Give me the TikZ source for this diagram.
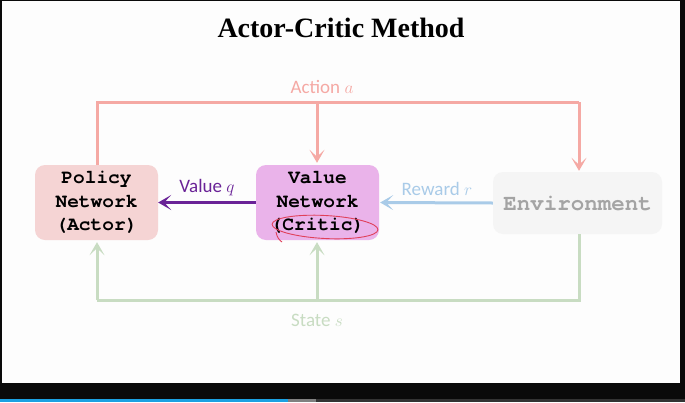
\documentclass[tikz,border=0pt]{standalone}
\usepackage{fontspec}
\setmainfont{Liberation Serif}
\setsansfont{Carlito}
\setmonofont{texgyrecursor}[Extension=.otf, UprightFont=*-regular, BoldFont=*-bold]
\usetikzlibrary{arrows.meta}
\definecolor{bgc}{HTML}{FDFDFD}
\definecolor{actc}{HTML}{F5A9A4}
\definecolor{polc}{HTML}{F5D4D4}
\definecolor{valc}{HTML}{EAB3EA}
\definecolor{qc}{HTML}{6A2397}
\definecolor{rewc}{HTML}{A9CBE8}
\definecolor{statec}{HTML}{C8DCC2}
\definecolor{envc}{HTML}{F5F5F5}
\definecolor{envt}{HTML}{A4A4A4}
\definecolor{markc}{HTML}{E0405A}
\definecolor{barc}{HTML}{1BA1E2}
\tikzset{
  boxst/.style={rounded corners=10pt, align=center, inner sep=0pt,
    font=\fontsize{19.5}{23.5}\selectfont\ttfamily\bfseries},
  conn/.style={line width=3pt},
  tip/.style={-{Stealth[length=13pt,width=15pt,inset=7pt]}},
  lbl/.style={font=\fontsize{19}{21}\selectfont\sffamily, inner sep=0pt}
}
\begin{document}
\begin{tikzpicture}[x=1pt,y=-1pt]
\fill[black!96] (0,0) rectangle (685,402);
\fill[bgc] (2,1) rectangle (680,383);
\fill[barc] (0,399) rectangle (288,402);
\fill[gray] (288,399) rectangle (316,402);
\fill[black!80] (316,399) rectangle (685,402);
\useasboundingbox (0,0) rectangle (685,402);

\node[font=\fontsize{28}{30}\selectfont\bfseries, inner sep=0pt] (title) at (341,28) {Actor-Critic Method};

\node[boxst, fill=polc, minimum width=123pt, minimum height=75pt] (policy) at (96.5,202.5) {Policy\\Network\\(Actor)};
\node[boxst, fill=valc, minimum width=123pt, minimum height=75pt] (value) at (317.5,202.5) {Value\\Network\\(Critic)};
\node[boxst, fill=envc, text=envt, minimum width=169pt, minimum height=62pt, font=\fontsize{22.5}{24}\selectfont\ttfamily\bfseries] (env) at (577.5,203) {Environment};

% Action
\coordinate (atl) at (97,102);
\coordinate (atm) at (317,102);
\coordinate (atr) at (579,102);
\draw[conn, actc] (policy.north -| atl) -- (atl) -- (atr);
\draw[conn, actc, tip, shorten >=1pt] (atr) -- (atr |- env.north);
\draw[conn, actc, tip, shorten >=2pt] (atm) -- (atm |- value.north);
\node[lbl, text=actc] (actlbl) at (322,87) {Action $a$};

% Value q
\draw[conn, qc, tip] (value.west) -- (policy.east);
\node[lbl, text=qc] (qlbl) at (207,188) {Value $q$};

% Reward
\draw[conn, rewc, tip, shorten >=1pt] (env.west) -- (value.east);
\node[lbl, text=rewc] (rlbl) at (437,189) {Reward $r$};

% State
\coordinate (sbl) at (97,300);
\coordinate (sbm) at (317,300);
\coordinate (sbr) at (579,300);
\draw[conn, statec] (env.south -| sbr) -- (sbr) -- (sbl);
\draw[conn, statec, tip, shorten >=2pt] (sbl) -- (sbl |- policy.south);
\draw[conn, statec, tip, shorten >=2pt] (sbm) -- (sbm |- value.south);
\node[lbl, text=statec] (slbl) at (317,320) {State $s$};

% hand-drawn mark
\draw[markc, line width=0.9pt, rotate around={-3:(325,227)}] (325,227) ellipse [x radius=53, y radius=11.5];
\draw[markc, line width=0.9pt] (276,232) .. controls (277,237) and (279,240) .. (282,242);
\end{tikzpicture}
\end{document}
